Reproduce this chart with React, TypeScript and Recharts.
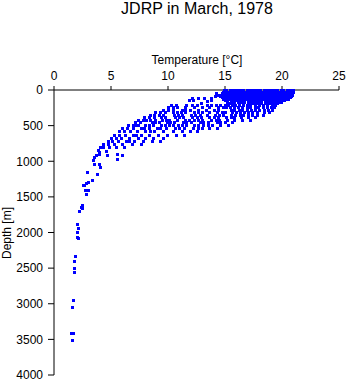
import React from 'react';
import { ScatterChart, Scatter, XAxis, YAxis } from 'recharts';

const titleText = 'JDRP in March, 1978';
const xLabel = 'Temperature [°C]';
const yLabel = 'Depth [m]';
const tempTicks = [0, 5, 10, 15, 20, 25];
const depthTicks = [0, 500, 1000, 1500, 2000, 2500, 3000, 3500, 4000];

// Mixed surface layer rows: [depth m, temperatures °C]
const mixedLayerRows: [number, number[]][] = [
  [5, [14.9, 15.1, 15.4, 15.6, 15.9, 16.1, 16.4, 16.6, 16.9, 17.1, 17.4, 17.6, 17.9, 18.1, 18.4, 18.6, 18.9, 19.1, 19.4, 19.6, 19.9, 20.1, 20.4, 20.6, 20.9, 21.0]],
  [25, [14.8, 15.0, 15.3, 15.5, 15.8, 16.0, 16.3, 16.5, 16.8, 17.0, 17.3, 17.5, 17.8, 18.0, 18.3, 18.5, 18.8, 19.0, 19.3, 19.5, 19.8, 20.0, 20.3, 20.5, 20.8, 21.0]],
  [45, [14.7, 15.0, 15.2, 15.5, 15.7, 16.0, 16.2, 16.5, 16.7, 17.0, 17.2, 17.5, 17.7, 18.2, 18.5, 18.7, 19.0, 19.2, 19.5, 19.7, 20.0, 20.2, 20.5, 20.7, 20.9]],
  [65, [14.6, 14.9, 15.1, 15.4, 15.6, 15.9, 16.1, 16.4, 16.6, 16.9, 17.1, 17.4, 17.6, 17.9, 18.1, 18.4, 18.6, 18.9, 19.1, 19.4, 19.6, 19.9, 20.1, 20.4, 20.6, 20.9]],
  [85, [14.6, 14.8, 15.1, 15.3, 15.6, 15.8, 16.1, 16.3, 16.6, 16.8, 17.1, 17.3, 17.6, 17.8, 18.1, 18.3, 18.6, 18.8, 19.1, 19.3, 19.6, 19.8, 20.1, 20.3, 20.6, 20.8]],
  [105, [14.7, 14.9, 15.2, 15.4, 15.7, 15.9, 16.2, 16.4, 16.7, 16.9, 17.2, 17.4, 17.7, 17.9, 18.2, 18.4, 18.7, 18.9, 19.2, 19.4, 19.7, 19.9, 20.2, 20.4, 20.7]],
  [125, [14.8, 15.0, 15.3, 15.5, 15.8, 16.0, 16.3, 16.5, 16.8, 17.0, 17.3, 17.5, 17.8, 18.0, 18.3, 18.5, 18.8, 19.0, 19.3, 19.5, 19.8, 20.0, 20.3, 20.5]],
  [145, [15.0, 15.2, 15.5, 15.7, 16.0, 16.2, 16.5, 16.7, 17.0, 17.2, 17.5, 17.7, 18.0, 18.2, 18.5, 18.7, 19.0, 19.2, 19.5, 19.7, 20.0, 20.2]],
  [165, [15.2, 15.5, 15.8, 16.1, 16.4, 16.7, 17.0, 17.3, 17.6, 17.9, 18.2, 18.5, 18.8, 19.1, 19.4, 19.7, 19.9]],
  [185, [15.4, 15.8, 16.2, 16.6, 17.0, 17.4, 17.8, 18.1, 18.5, 18.9, 19.3, 19.6]],
];

// Scattered shallow stations with cooler surface water: [temperature, depth]
const shallowTail: [number, number][] = [
  [14.3, 70], [14.1, 84], [13.8, 140], [13.4, 155], [12.9, 183], [12.2, 140],
  [11.8, 140], [12.1, 112], [12.6, 112], [13.2, 112], [13.8, 112], [14.2, 40],
];

// Thermocline rows: [depth m, temperatures °C]
const thermoclineRows: [number, number[]][] = [
  [205, [10.3, 10.7, 11.6, 12.1, 12.5, 13.4, 13.8, 14.2, 14.6, 15.0, 15.3, 15.6, 15.9, 16.2, 16.6, 16.9, 17.2, 17.6, 18.0, 18.3, 18.7, 19.1, 19.4]],
  [240, [10.0, 10.4, 10.8, 11.5, 12.3, 13.0, 13.6, 14.4, 14.8, 15.1, 15.4, 15.8, 16.1, 16.5, 16.9, 17.2, 17.6, 17.9, 18.3, 18.7, 19.0, 19.3]],
  [275, [9.6, 10.0, 10.4, 11.2, 11.5, 11.9, 12.6, 13.3, 14.0, 14.4, 15.5, 15.8, 16.2, 16.5, 16.9, 17.3, 17.6, 18.0, 18.4, 18.8, 19.1]],
  [310, [8.9, 9.3, 9.7, 10.4, 10.8, 11.1, 11.5, 12.3, 12.6, 13.0, 13.6, 14.3, 14.7, 15.0, 15.6, 16.0, 16.3, 16.7, 17.0, 17.4, 17.8, 18.4, 18.9]],
  [345, [8.4, 8.8, 9.2, 9.6, 10.5, 10.9, 11.2, 12.0, 12.4, 12.8, 13.4, 14.1, 14.5, 14.8, 15.5, 15.9, 16.3, 16.6, 17.0, 17.4, 17.8, 18.3]],
  [380, [7.9, 8.3, 8.8, 9.4, 9.7, 10.6, 11.0, 11.3, 12.1, 12.5, 12.9, 13.6, 14.0, 14.4, 15.1, 15.5, 15.8, 16.4, 17.0, 17.6]],
  [415, [7.4, 7.8, 8.1, 8.4, 8.9, 9.5, 9.8, 10.1, 10.8, 11.5, 11.8, 12.3, 12.6, 13.0, 13.8, 14.2, 14.5, 15.2, 15.8, 16.5, 17.2]],
  [450, [7.1, 7.5, 8.6, 8.9, 9.2, 9.9, 10.2, 10.5, 11.3, 11.6, 12.0, 12.8, 13.1, 13.5, 14.3, 14.6, 15.0, 15.6]],
  [495, [6.5, 6.9, 7.2, 7.4, 8.0, 8.3, 8.7, 9.4, 9.7, 10.1, 10.4, 10.9, 11.2, 11.6, 12.3, 12.6, 13.1, 13.5, 13.9, 14.6, 15.3]],
  [540, [6.0, 6.4, 6.9, 7.6, 7.9, 8.3, 9.0, 9.3, 9.8, 10.6, 11.0, 11.4, 12.2, 12.6, 13.0, 13.6, 14.3]],
  [580, [5.7, 6.1, 6.7, 7.3, 8.0, 8.4, 8.8, 9.6, 10.4, 11.2, 11.9, 12.5]],
  [625, [5.3, 5.7, 6.2, 6.9, 7.2, 7.6, 8.3, 9.1, 9.9, 10.7, 11.4]],
  [670, [5.0, 5.4, 5.9, 6.6, 7.4, 8.0, 8.7, 9.6]],
  [715, [4.7, 5.1, 5.6, 6.3, 6.6, 7.0, 7.8, 8.6, 9.3]],
  [755, [4.3, 4.7, 5.3, 6.0, 6.8, 7.6]],
  [805, [4.0, 4.3, 4.8, 5.4, 6.1]],
];

// Intermediate and deep samples: [temperature, depth]
const intermediateWater: [number, number][] = [
  [3.85, 840], [3.93, 870], [4.6, 860], [3.7, 913], [3.93, 899], [4.63, 913], [5.5, 899], [6.0, 913],
  [3.5, 941], [3.4, 983], [5.5, 969], [3.5, 1039], [3.93, 1039], [4.0, 1081],
  [2.88, 1151], [3.76, 1179], [3.3, 1264], [2.97, 1290], [2.8, 1305], [2.6, 1335],
  [2.5, 1334], [2.7, 1400], [3.0, 1400], [2.8, 1460],
];

const deepWater: [number, number][] = [
  [2.45, 1615], [2.36, 1640], [2.45, 1660], [2.2, 1700],
  [2.0, 1880], [2.1, 1940], [2.0, 1995], [2.0, 2065], [2.1, 2080],
  [1.84, 2330], [1.75, 2400], [1.75, 2500], [1.75, 2555],
  [1.66, 2948], [1.57, 3047], [1.45, 3412], [1.7, 3412], [1.57, 3510],
];

const fromRows = (rows: [number, number[]][]) =>
  rows.flatMap(([depth, temps]) => temps.map((t) => ({ temperature: t, depth })));
const fromPairs = (pairs: [number, number][]) =>
  pairs.map(([t, d]) => ({ temperature: t, depth: d }));

const data = [
  ...fromRows(mixedLayerRows),
  ...fromPairs(shallowTail),
  ...fromRows(thermoclineRows),
  ...fromPairs(intermediateWater),
  ...fromPairs(deepWater),
];

const FONT = '"Liberation Sans", Arial, Helvetica, sans-serif';

const Marker = (props: any) => {
  const { cx, cy } = props;
  if (cx == null || cy == null) return null;
  return (
    <rect
      x={Math.round(cx) - 1}
      y={Math.round(cy) - 1}
      width={3}
      height={3}
      fill="#0000ff"
      shapeRendering="crispEdges"
    />
  );
};

export default function App() {
  return (
    <div style={{ position: 'relative', width: 348, height: 384, background: '#fff' }}>
      <style>{'body{margin:0}'}</style>
      <ScatterChart width={348} height={384} margin={{ top: 60, right: 9, bottom: 9, left: 10 }}>
        <XAxis
          type="number"
          dataKey="temperature"
          orientation="top"
          domain={[0, 25]}
          ticks={tempTicks}
          interval={0}
          height={30}
          tickSize={4}
          tickMargin={6}
          axisLine={{ stroke: '#000' }}
          tickLine={{ stroke: '#000' }}
          tick={{ fill: '#000', fontSize: 12, fontFamily: FONT }}
        />
        <YAxis
          type="number"
          dataKey="depth"
          reversed
          domain={[0, 4000]}
          ticks={depthTicks}
          interval={0}
          width={44}
          tickSize={6}
          tickMargin={5}
          axisLine={{ stroke: '#000' }}
          tickLine={{ stroke: '#000' }}
          tick={{ fill: '#000', fontSize: 12, fontFamily: FONT }}
        />
        <Scatter data={data} shape={Marker} isAnimationActive={false} />
      </ScatterChart>
      <svg
        width={348}
        height={384}
        style={{ position: 'absolute', left: 0, top: 0, pointerEvents: 'none' }}
      >
        <text x={197} y={14} textAnchor="middle" fontSize={16} fontFamily={FONT} fill="#000">
          {titleText}
        </text>
        <text x={197} y={64} textAnchor="middle" fontSize={12} fontFamily={FONT} fill="#000">
          {xLabel}
        </text>
        <text
          x={11}
          y={233}
          textAnchor="middle"
          fontSize={12}
          fontFamily={FONT}
          fill="#000"
          transform="rotate(-90 11 233)"
        >
          {yLabel}
        </text>
      </svg>
    </div>
  );
}
